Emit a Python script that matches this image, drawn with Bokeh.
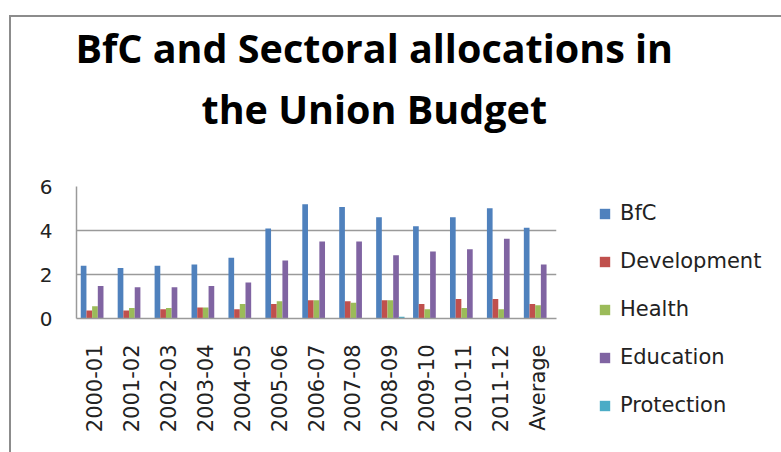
import math
from bokeh.plotting import figure
from bokeh.models import (ColumnDataSource, Legend, LegendItem, Title,
                          FactorRange, Range1d)
from bokeh.transform import dodge
from bokeh.embed import file_html
from bokeh.resources import INLINE

years = ["2000-01", "2001-02", "2002-03", "2003-04", "2004-05", "2005-06",
         "2006-07", "2007-08", "2008-09", "2009-10", "2010-11", "2011-12", "Average"]
bfc = [2.40, 2.29, 2.40, 2.46, 2.76, 4.09, 5.19, 5.07, 4.60, 4.19, 4.60, 5.01, 4.13]
development = [0.36, 0.36, 0.42, 0.50, 0.42, 0.66, 0.83, 0.78, 0.83, 0.66, 0.89, 0.89, 0.66]
health = [0.56, 0.48, 0.48, 0.50, 0.66, 0.78, 0.83, 0.72, 0.83, 0.42, 0.48, 0.42, 0.60]
education = [1.48, 1.42, 1.42, 1.48, 1.64, 2.64, 3.50, 3.50, 2.87, 3.05, 3.15, 3.62, 2.46]
protection = [0.0, 0.0, 0.0, 0.0, 0.0, 0.0, 0.0, 0.0, 0.08, 0.0, 0.0, 0.0, 0.0]

series_names = ["BfC", "Development", "Health", "Education", "Protection"]
series_values = [bfc, development, health, education, protection]
colors = ["#4F81BD", "#C0504D", "#9BBB59", "#8064A2", "#4BACC6"]
y_ticks = [0, 2, 4, 6]
title_lines = ["BfC and Sectoral allocations in", "the Union Budget"]

src = ColumnDataSource(dict(year=years, **{n: v for n, v in zip(series_names, series_values)}))

# window-space layout; figure is offset by the chart border
OX, OY = 11, 17
W, H = 781 - OX, 452 - OY
FL, FR, FT, FB = 76 - OX, 556 - OX, 186 - OY, 318 - OY

p = figure(frame_width=FR - FL, frame_height=FB - FT,
           output_backend="svg", toolbar_location=None,
           x_range=FactorRange(*years, range_padding=0), y_range=Range1d(0, 6),
           min_border_left=FL, min_border_right=W - FR, min_border_top=FT,
           min_border_bottom=H - FB)
p.styles = {"margin-left": "9px", "margin-top": "15px",
            "border-left": "2px solid #8c8c8c", "border-top": "2px solid #8c8c8c"}
p.outline_line_color = None
p.background_fill_color = "white"
p.border_fill_color = "white"

bw = 1 / 6.5
items = []
for i, (name, col) in enumerate(zip(series_names, colors)):
    r = p.vbar(x=dodge("year", (i - 2) * bw, range=p.x_range), top=name, width=bw,
               source=src, fill_color=col, line_color=None)
    items.append(LegendItem(label=name, renderers=[r]))

p.xgrid.grid_line_color = None
p.ygrid.grid_line_color = "#9a9a9a"
p.ygrid.grid_line_width = 1.5
p.yaxis.ticker = y_ticks
p.yaxis.minor_tick_line_color = None
p.yaxis.major_tick_out = 0
p.yaxis.major_tick_in = 0
p.yaxis.axis_line_color = "#9a9a9a"
p.yaxis.axis_line_width = 1.5
p.yaxis.major_label_standoff = 24
p.yaxis.major_label_text_font = "DejaVu Sans"
p.yaxis.major_label_text_font_size = "20px"
p.yaxis.major_label_text_color = "#222222"

p.xaxis.major_tick_out = 0
p.xaxis.major_tick_in = 0
p.xaxis.axis_line_color = "#9a9a9a"
p.xaxis.axis_line_width = 1.5
p.xaxis.major_label_orientation = math.pi / 2
p.xaxis.major_label_standoff = 26
p.xaxis.major_label_text_font = "DejaVu Sans"
p.xaxis.major_label_text_font_size = "21px"
p.xaxis.major_label_text_color = "#222222"

legend = Legend(items=items, location=(42, -99), orientation="vertical", ncols=1,
                padding=0, margin=0, spacing=24, glyph_width=13, glyph_height=13,
                label_standoff=9, label_text_font="DejaVu Sans",
                label_text_font_size="21px", label_text_color="#222222",
                border_line_color=None, background_fill_alpha=0)
p.add_layout(legend, "right")

spacer = Title(text=" ", standoff=43, text_font_size="1px")
p.add_layout(spacer, "above")
# left edges of the two title lines, in window pixels
for line, so, left in [(title_lines[1], 10, 206), (title_lines[0], 0, 80)]:
    t = Title(text=line, align="left", offset=left - 76 - 5, standoff=so,
              text_font="Open Sans", text_font_style="bold", text_font_size="39.5px",
              text_color="#000000")
    p.add_layout(t, "above")

open("out.html", "w").write(file_html(p, INLINE))
